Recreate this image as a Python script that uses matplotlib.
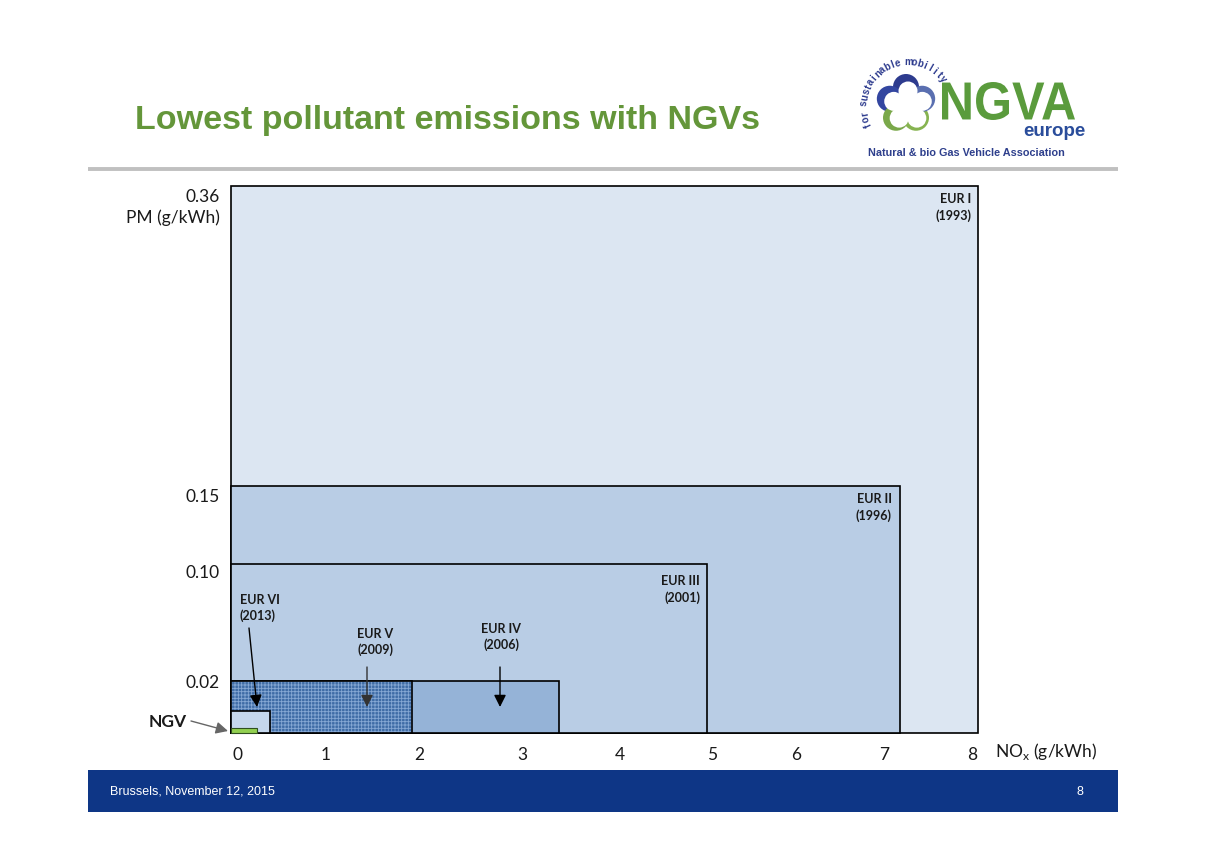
import numpy as np
import matplotlib
matplotlib.use("Agg")
import matplotlib.pyplot as plt
from matplotlib.patches import Rectangle, Circle, PathPatch
from matplotlib.transforms import ScaledTranslation, Affine2D
from matplotlib.textpath import TextPath
from matplotlib.font_manager import FontProperties

# ---------------- data ----------------
standards = ["EUR I", "EUR II", "EUR III", "EUR IV", "EUR V", "EUR VI"]
years = ["1993", "1996", "2001", "2006", "2009", "2013"]
nox_limits = [8.0, 7.0, 5.0, 3.5, 2.0, 0.4]      # g/kWh
pm_limits = [0.36, 0.15, 0.10, 0.02, 0.02, 0.01]  # g/kWh
ngv_nox = 0.27
ngv_pm = 0.0023

x_ticks = [0, 1, 2, 3, 4, 5, 6, 7, 8]
x_tick_labels = ["0", "1", "2", "3", "4", "5", "6", "7", "8"]
y_ticks = [0.02, 0.10, 0.15, 0.36]
y_tick_labels = ["0.02", "0.10", "0.15", "0.36"]

# ---------------- styling / layout ----------------
box_colors = ["#dce6f2", "#b9cde5", "#b9cde5", "#95b3d7", "#3f6ca6", "#c5d7ec"]
ngv_color = "#92d050"

W, H = 1205, 851
# schematic (piecewise linear) axis scales: value knots -> fraction of axis
x_knots = [0, 0.4, 1, 2, 3, 3.5, 4, 5, 6, 7, 8]
x_knot_pos = np.array([0, 39, 95, 181, 291, 328, 389, 476, 565, 669, 747]) / 747.0
y_knots = [0, 0.01, 0.02, 0.10, 0.15, 0.36]
y_knot_pos = np.array([0, 22, 52, 169, 247, 547]) / 547.0

x_tick_nudge_px = [6, 0, 7, 0, 0, 5, 0, -16, -6]
y_tick_nudge_px = [0, -8, -10, -10]


def xf(v):
    return np.interp(v, x_knots, x_knot_pos)


def xi(p):
    return np.interp(p, x_knot_pos, x_knots)


def yf(v):
    return np.interp(v, y_knots, y_knot_pos)


def yi(p):
    return np.interp(p, y_knot_pos, y_knots)


plt.rcParams["font.family"] = ["Lato", "DejaVu Sans"]
plt.rcParams["hatch.linewidth"] = 0.6
plt.rcParams["mathtext.fontset"] = "custom"
plt.rcParams["mathtext.rm"] = "Lato"

fig = plt.figure(figsize=(W / 100, H / 100), dpi=100)


def pixel_axes(z):
    a = fig.add_axes([0, 0, 1, 1], zorder=z)
    a.set_xlim(0, W)
    a.set_ylim(H, 0)
    a.axis("off")
    a.patch.set_alpha(0)
    return a


# overlay axes in reference-pixel coordinates for slide decorations
ov = pixel_axes(0)

# chart axes
ax = fig.add_axes([231 / W, 1 - 733 / H, (978 - 231) / W, (733 - 186) / H], zorder=2)
ax.set_xscale("function", functions=(xf, xi))
ax.set_yscale("function", functions=(yf, yi))
ax.set_xlim(0, 8)
ax.set_ylim(0, 0.36)
ax.patch.set_alpha(0)
for s in ax.spines.values():
    s.set_visible(False)

# top overlay for annotations drawn above the boxes
ot = pixel_axes(3)

lw = 1.2
for i, (nx, pm) in enumerate(zip(nox_limits, pm_limits)):
    if standards[i] == "EUR V":
        ax.add_patch(Rectangle((0, 0), nx, pm, facecolor=box_colors[i],
                               edgecolor="#86a8d4", hatch="+++++", linewidth=0,
                               zorder=2 + i, clip_on=False))
        ax.add_patch(Rectangle((0, 0), nx, pm, facecolor="none", edgecolor="black",
                               linewidth=lw, zorder=2 + i, clip_on=False))
    else:
        ax.add_patch(Rectangle((0, 0), nx, pm, facecolor=box_colors[i],
                               edgecolor="black", linewidth=lw, zorder=2 + i,
                               clip_on=False))

ax.add_patch(Rectangle((0, 0), ngv_nox, ngv_pm, facecolor=ngv_color,
                       edgecolor="#2f4f1f", linewidth=0.8, zorder=10, clip_on=False))

# labels anchored to box corners (EUR I - III)
label_offsets = {"EUR I": (-5, -5), "EUR II": (-6, -5), "EUR III": (-5, -8)}
for i, name in enumerate(standards[:3]):
    dx, dy = label_offsets[name]
    ax.annotate(f"{name}\n({years[i]})", xy=(nox_limits[i], pm_limits[i]),
                xytext=(dx, dy), textcoords="offset points", ha="right", va="top",
                fontsize=9, fontweight="bold", color="#1a1a1a", linespacing=1.4,
                zorder=20)

# ticks
ax.set_xticks(x_ticks, x_tick_labels)
ax.set_yticks(y_ticks, y_tick_labels)
ax.tick_params(axis="both", length=0, labelsize=12.5, colors="#1a1a1a")
ax.tick_params(axis="x", pad=10)
ax.tick_params(axis="y", pad=8)
for lab, n in zip(ax.get_xticklabels(), x_tick_nudge_px):
    lab.set_transform(lab.get_transform() + ScaledTranslation(n / 100, 0, fig.dpi_scale_trans))
for lab, n in zip(ax.get_yticklabels(), y_tick_nudge_px):
    lab.set_transform(lab.get_transform() + ScaledTranslation(0, n / 100, fig.dpi_scale_trans))

# axis titles
ov.text(220, 218, "PM (g/kWh)", ha="right", va="center", fontsize=12.5, color="#1a1a1a")
ov.text(995, 751, r"NO$_\mathrm{x}$ (g/kWh)", ha="left", va="center", fontsize=12.5,
        color="#1a1a1a")

# annotations with arrows (EUR IV - VI)
arrow_kw = dict(arrowstyle="-|>,head_length=0.6,head_width=0.3", mutation_scale=12,
                lw=1.0, shrinkA=0, shrinkB=0)
ot.text(501, 637, f"EUR IV\n({years[3]})", ha="center", va="center", fontsize=9,
        fontweight="bold", color="#1a1a1a", linespacing=1.4)
ot.text(375, 642, f"EUR V\n({years[4]})", ha="center", va="center", fontsize=9,
        fontweight="bold", color="#1a1a1a", linespacing=1.4)
ot.text(240, 608, f"EUR VI\n({years[5]})", ha="left", va="center", fontsize=9,
        fontweight="bold", color="#1a1a1a", linespacing=1.4)

ot.annotate("", xy=(500, 707), xytext=(500, 667),
            arrowprops=dict(color="black", **arrow_kw))
ot.annotate("", xy=(367, 707), xytext=(367, 667),
            arrowprops=dict(color="#333333", **arrow_kw))
ot.annotate("", xy=(257, 707), xytext=(249, 628),
            arrowprops=dict(color="black", **arrow_kw))

# NGV label + arrow pointing to the NGV box
ot.text(187, 722, "NGV", ha="right", va="center", fontsize=12.5, fontweight="bold",
        color="#1a1a1a")
ot.annotate("", xy=(228, 731), xytext=(191, 721),
            arrowprops=dict(arrowstyle="-|>,head_length=0.6,head_width=0.3",
                            mutation_scale=12, lw=1.0, color="#666666",
                            shrinkA=0, shrinkB=0))

# ---------------- slide decorations ----------------
ov.text(135, 120, "Lowest pollutant emissions with NGVs", ha="left", va="center",
        fontsize=24.5, fontweight="bold", color="#64963a", family="Liberation Sans")
ov.plot([88, 1118], [169, 169], color="#c0c0c0", lw=2.8, solid_capstyle="butt")

# footer band
ov.add_patch(Rectangle((88, 770), 1030, 42, facecolor="#0e3686", edgecolor="none"))
ov.text(110, 792, "Brussels, November 12, 2015", ha="left", va="center", fontsize=9,
        color="white", family="Liberation Sans")
ov.text(1083, 792, "8", ha="right", va="center", fontsize=9, color="white",
        family="Liberation Sans")

# logo: flower
cx, cy = 906, 104
petal_angles = [90, 162, 234, 306, 18]
petal_cols = ["#2d3b8e", "#3346a0", "#7aa84a", "#86b350", "#5a6fb0"]
for a, c in zip(petal_angles, petal_cols):
    px = cx + 17 * np.cos(np.radians(a))
    py = cy - 17 * np.sin(np.radians(a))
    ov.add_patch(Circle((px, py), 13, facecolor=c, edgecolor="none"))
for a in petal_angles:
    px = cx + 15 * np.cos(np.radians(a)) + 2
    py = cy - 15 * np.sin(np.radians(a)) + 2
    ov.add_patch(Circle((px, py), 9.5, facecolor="white", edgecolor="none"))
ov.add_patch(Circle((cx + 2, cy + 2), 13, facecolor="white", edgecolor="none"))

# arc text
arc_txt = "for sustainable mobility"
ang = np.linspace(205, 38, len(arc_txt))
acx, acy, r = 908, 106, 44
for ch, a in zip(arc_txt, ang):
    px = acx + r * np.cos(np.radians(a))
    py = acy - r * np.sin(np.radians(a))
    ov.text(px, py, ch, rotation=a - 90, ha="center", va="center", fontsize=7,
            fontweight="bold", color="#2d3b8e", family="Liberation Sans")

# condensed "NGVA" lettering (scaled text path)
tp = TextPath((0, 0), "NGVA", size=1, prop=FontProperties(family="Liberation Sans", weight="bold"))
ext = tp.get_extents()
sx = (1075 - 942) / ext.width
sy = (120 - 82) / ext.height
tr = Affine2D().translate(-ext.x0, -ext.y0).scale(sx, -sy).translate(942, 120) + ov.transData
ov.add_patch(PathPatch(tp, transform=tr, facecolor="#5a9b3c", edgecolor="none"))

ov.text(1085, 131, "europe", ha="right", va="center", fontsize=13.5, fontweight="bold",
        color="#2a4d9b", family="Liberation Sans")
ov.text(868, 153, "Natural & bio Gas Vehicle Association", ha="left", va="center",
        fontsize=7.8, fontweight="bold", color="#2e3f8c", family="Liberation Sans")

fig.savefig("out.png", dpi=100)
